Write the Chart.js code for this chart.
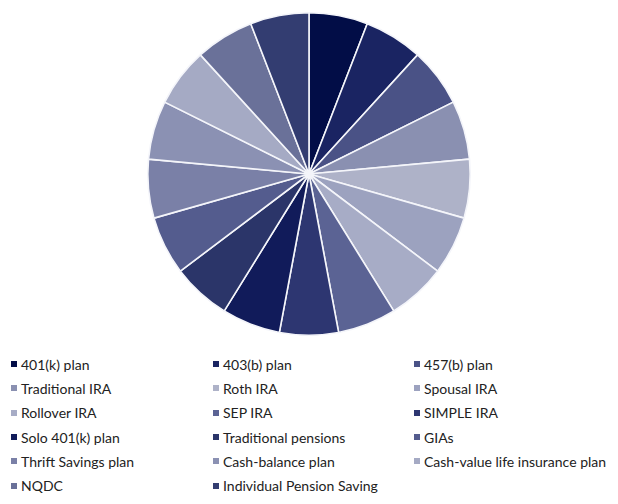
<!DOCTYPE html>
<html>
<head>
<meta charset="utf-8">
<script src="https://cdn.jsdelivr.net/npm/chart.js@4/dist/chart.umd.min.js"></script>
<style>
  body { margin: 0; background: #fff; width: 618px; height: 504px; overflow: hidden; }
  #wrap { position: absolute; left: 0; top: 0; width: 618px; height: 340px; }
  #legend {
    position: absolute; left: 11px; top: 352px;
    display: grid; grid-template-columns: 202px 201px 200px;
    grid-auto-rows: 24.3px;
    font-family: "Lato", "Liberation Sans", sans-serif; font-size: 14px; color: #222;
  }
  .item { display: flex; align-items: center; white-space: nowrap; }
  .box { width: 6px; height: 6px; margin-right: 4px; flex: none; }
</style>
</head>
<body>
<div id="wrap"><canvas id="grafica"></canvas></div>
<div id="legend"></div>
<script>
const planes = [
    "401(k) plan", "403(b) plan", "457(b) plan",
    "Traditional IRA", "Roth IRA", "Spousal IRA",
    "Rollover IRA", "SEP IRA", "SIMPLE IRA",
    "Solo 401(k) plan", "Traditional pensions", "GIAs",
    "Thrift Savings plan", "Cash-balance plan", "Cash-value life insurance plan",
    "NQDC", "Individual Pension Saving"
];

const valores = [1, 1, 1, 1, 1, 1, 1, 1, 1, 1, 1, 1, 1, 1, 1, 1, 1];

const bgColor = [
    "#020d47", "#1a2462", "#4a5286",
    "#8a90b1", "#aeb2c8", "#9ca2bf",
    "#a7acc6", "#5b6394", "#2d3671",
    "#111b5a", "#2b3569", "#545c8e",
    "#7a80a7", "#8b91b3", "#a5aac4",
    "#6a7199", "#333d71"
];

const grafica = new Chart(
    "grafica",
    {
        type: "pie",
        data: {
            labels: planes,
            datasets: [{
                data: valores,
                backgroundColor: bgColor,
                borderColor: "#f4f5fa",
                borderWidth: 1.6
            }]
        },
        options: {
            responsive: true,
            maintainAspectRatio: false,
            animation: false,
            layout: {
                padding: { top: 12, bottom: 4, left: 0, right: 0 }
            },
            plugins: {
                legend: { display: false },
                tooltip: { enabled: false }
            }
        }
    }
);

// leyenda en 3 columnas
const leyenda = document.getElementById("legend");
planes.forEach((p, i) => {
    const item = document.createElement("div");
    item.className = "item";
    const box = document.createElement("span");
    box.className = "box";
    box.style.background = bgColor[i];
    item.appendChild(box);
    item.appendChild(document.createTextNode(p));
    leyenda.appendChild(item);
});
</script>
</body>
</html>
